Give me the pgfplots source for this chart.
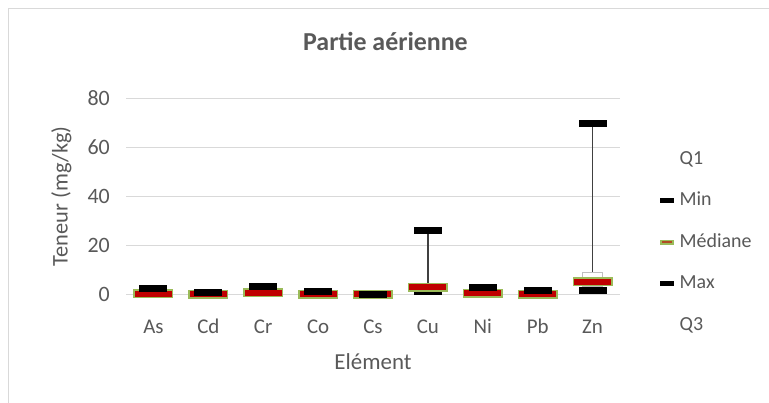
\documentclass[border=0pt]{standalone}
\usepackage{pgfplots}
\pgfplotsset{compat=1.18}
\usepackage{pgfplotstable}
\usepgfplotslibrary{statistics}
\usepackage{fontspec}
\setmainfont{Carlito}
\definecolor{txt}{HTML}{595959}
\definecolor{gridc}{HTML}{D9D9D9}
\definecolor{medred}{HTML}{C00000}
\definecolor{medgreen}{HTML}{9BBB59}
\definecolor{whisk}{HTML}{404040}
\pgfdeclareplotmark{blk}{\pgfpathrectangle{\pgfpoint{-14bp}{-3.5bp}}{\pgfpoint{28bp}{7bp}}\pgfusepathqfill}
\pgfdeclareplotmark{medbox}{\pgfpathrectangle{\pgfpoint{-19.25bp}{-3.75bp}}{\pgfpoint{38.5bp}{7.5bp}}\pgfusepathqfillstroke}

\pgfplotstableread{
x  min  q1   med  q3   max
0  0.1  0.1  0.2  0.5  2.5
1  0.02 0.05 0.1  0.3  0.7
2  0.3  0.4  0.7  1.2  3.3
3  0.0  0.05 0.1  0.4  1.3
4  0.0  0.02 0.05 0.08 0.1
5  1.1  1.8  2.9  4.0  26.0
6  0.1  0.2  0.45 1.0  2.6
7  0.0  0.05 0.1  0.5  1.6
8  1.5  3.0  5.2  9.0  69.6
}\data

\newcommand{\bp}[6]{\addplot[forget plot, boxplot prepared={draw position=#1, lower whisker=#2, lower quartile=#3, median=#4, upper quartile=#5, upper whisker=#6}] coordinates {};}

\begin{document}
\begin{tikzpicture}
\useasboundingbox (0,0) rectangle (769bp,403bp);
\fill[white] (0,0) rectangle (769bp,403bp);
\draw[gridc, line width=1bp] (8bp,-20bp) -- (8bp,394bp) -- (800bp,394bp);
\begin{axis}[
  at={(126bp,108.7bp)}, anchor=south west,
  scale only axis, width=494bp, height=196bp,
  xmin=-0.5, xmax=8.5, ymin=0, ymax=80,
  clip=false,
  axis line style={draw=none},
  major tick length=0pt,
  ytick={0,20,40,60,80},
  xtick={0,...,8},
  xticklabels={As,Cd,Cr,Co,Cs,Cu,Ni,Pb,Zn},
  ymajorgrids, grid style={gridc, line width=1bp},
  /pgf/number format/assume math mode=true,
  yticklabel style={font=\fontsize{22}{26}\selectfont, text=txt, anchor=east, inner sep=0pt, xshift=-16bp},
  xticklabel style={font=\fontsize{21}{25}\selectfont, text=txt, anchor=base, inner sep=0pt, yshift=-39bp},
  title={Partie aérienne},
  title style={font=\fontsize{26}{30}\selectfont\bfseries, text=txt, at={(axis description cs:0.3583,1.2122)}, anchor=base west, inner sep=0pt},
  xlabel={Elément},
  xlabel style={font=\fontsize{23}{27}\selectfont, text=txt, at={(axis description cs:0.5,-0.386)}, anchor=base, inner sep=0pt},
  ylabel={Teneur (mg/kg)},
  ylabel style={font=\fontsize{22.5}{27}\selectfont, text=txt, at={(axis description cs:-0.1184,0.5)}, anchor=base, inner sep=0pt},
  legend style={at={(axis description cs:1.081,0.737)}, anchor=north west, draw=none, fill=none, inner sep=0pt,
    font=\fontsize{20}{24}\selectfont, text=txt,
    nodes={inner sep=0pt, text height=14bp, text depth=4bp},
    row sep=23.5bp,
    /tikz/every odd column/.append style={column sep=6bp}},
  legend cell align=left,
  boxplot/draw direction=y,
  boxplot/box extend=0.35,
  boxplot/whisker extend=0,
  boxplot/every box/.style={draw=black!25, fill=white, line width=1bp},
  boxplot/every whisker/.style={draw=whisk, line width=1.6bp},
  boxplot/every median/.style={draw=none},
]
\bp{0}{0.1}{0.1}{0.2}{0.5}{2.5}
\bp{1}{0.02}{0.05}{0.1}{0.3}{0.7}
\bp{2}{0.3}{0.4}{0.7}{1.2}{3.3}
\bp{3}{0.0}{0.05}{0.1}{0.4}{1.3}
\bp{4}{0.0}{0.02}{0.05}{0.08}{0.1}
\bp{5}{1.1}{1.8}{2.9}{4.0}{26.0}
\bp{6}{0.1}{0.2}{0.45}{1.0}{2.6}
\bp{7}{0.0}{0.05}{0.1}{0.5}{1.6}
\bp{8}{1.5}{3.0}{5.2}{9.0}{69.6}
\addplot[forget plot, only marks, mark=blk, black] table[x=x, y=min] {\data};
\addplot[forget plot, only marks, mark=medbox, mark options={fill=medred, draw=medgreen, line width=1.5bp}] table[x=x, y=med] {\data};
\addplot[forget plot, only marks, mark=blk, black] table[x=x, y=max] {\data};

\addlegendimage{empty legend}
\addlegendentry{Q1}
\addlegendimage{legend image code/.code={\fill[black] (0bp,-2bp) rectangle (13bp,2bp);}}
\addlegendentry{Min}
\addlegendimage{legend image code/.code={\fill[medgreen] (0bp,-2bp) rectangle (13bp,2bp); \fill[medred!60!medgreen] (2bp,-0.4bp) rectangle (11bp,0.4bp);}}
\addlegendentry{Médiane}
\addlegendimage{legend image code/.code={\fill[black] (0bp,-2bp) rectangle (13bp,2bp);}}
\addlegendentry{Max}
\addlegendimage{empty legend}
\addlegendentry{Q3}
\end{axis}
\end{tikzpicture}
\end{document}
